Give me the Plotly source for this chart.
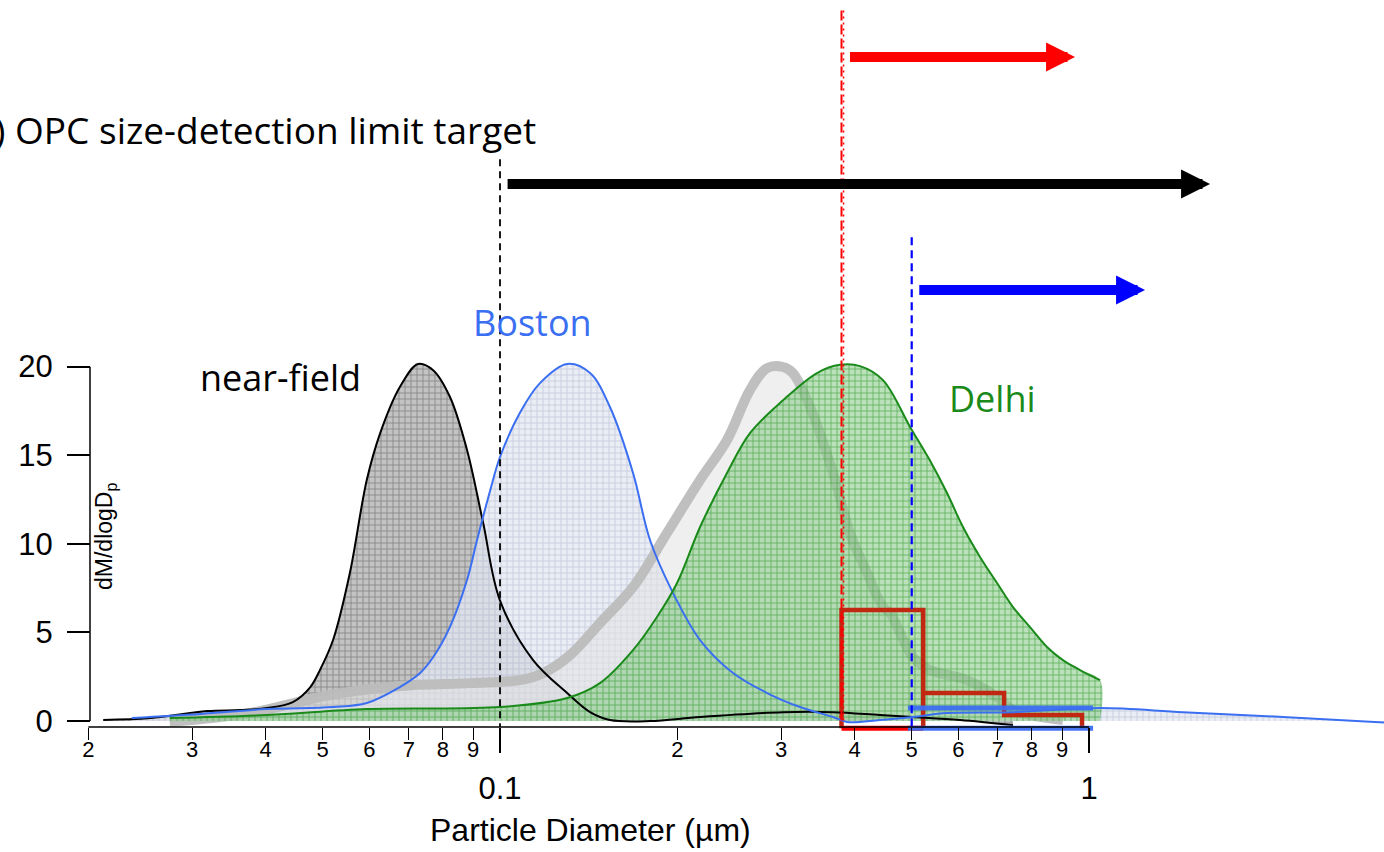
import numpy as np
import plotly.graph_objects as go

# ---------------- data ----------------
# near-field mass size distribution
nf_d = [0.0212, 0.0255, 0.0318, 0.0362, 0.0402, 0.0445, 0.0476, 0.0495, 0.0521, 0.0556,
        0.0594, 0.0626, 0.0676, 0.0726, 0.0770, 0.0822, 0.0879, 0.0936, 0.100, 0.1138,
        0.130, 0.1422, 0.1537, 0.1798, 0.2186, 0.3023, 0.3676, 0.4416, 0.502, 0.604, 0.743]
nf_v = [0.06, 0.17, 0.56, 0.62, 0.73, 1.07, 1.9, 2.9, 4.6, 8.35,
        13.6, 16.25, 18.85, 20.15, 19.8, 18.3, 15.3, 11.2, 6.8, 3.44,
        1.58, 0.5, 0.06, 0.0, 0.23, 0.5, 0.5, 0.34, 0.23, 0.06, -0.23]

# Boston
bo_d = [0.0237, 0.031, 0.0402, 0.0521, 0.0594, 0.0676, 0.0731, 0.077, 0.0822, 0.0879,
        0.0914, 0.0962, 0.100, 0.1081, 0.1169, 0.130, 0.1422, 0.1537, 0.1682, 0.1798,
        0.1967, 0.2186, 0.2487, 0.2841, 0.3231, 0.3676, 0.3882, 0.4416, 0.502, 0.574,
        0.743, 1.044, 1.444, 2.135, 3.24]
bo_v = [0.17, 0.4, 0.68, 0.79, 1.02, 1.92, 2.7, 3.6, 5.3, 7.96,
        10.2, 13.0, 14.9, 17.4, 19.07, 20.15, 19.64, 17.72, 14.0, 10.2,
        7.22, 4.57, 2.71, 1.58, 0.79, 0.23, -0.05, 0.06, 0.23, 0.45,
        0.5, 0.73, 0.5, 0.23, -0.1]

# Delhi
de_d = [0.0275, 0.0402, 0.0594, 0.100, 0.130, 0.1478, 0.1682, 0.1847, 0.1998, 0.2186,
        0.2429, 0.2657, 0.3023, 0.3453, 0.3778, 0.4086, 0.4469, 0.4968, 0.537, 0.574,
        0.611, 0.653, 0.698, 0.743, 0.794, 0.8485, 0.903, 0.9655, 1.044]
de_v = [0.17, 0.34, 0.68, 0.79, 1.3, 2.14, 4.0, 5.87, 7.79, 10.95,
        14.0, 16.25, 18.1, 19.64, 20.1, 20.03, 19.24, 16.6, 14.7, 12.87,
        10.95, 9.26, 7.79, 6.43, 5.3, 4.18, 3.44, 2.88, 2.31]

# grey (unlabelled) distribution
gr_d = [0.0275, 0.0376, 0.0514, 0.0676, 0.089, 0.1081, 0.1183, 0.1315, 0.1478, 0.1682,
        0.192, 0.2186, 0.2429, 0.2657, 0.2841, 0.3023, 0.3143, 0.336, 0.3676, 0.3928,
        0.42, 0.4469, 0.4594, 0.502, 0.537, 0.6208, 0.698, 0.743, 0.903]
gr_v = [-0.05, 0.45, 1.47, 1.98, 2.14, 2.31, 2.7, 3.72, 5.53, 7.56,
        10.6, 13.6, 15.86, 18.68, 19.92, 19.98, 19.64, 17.72, 14.0, 10.6,
        8.35, 6.43, 6.1, 3.61, 2.88, 2.31, 1.35, 0.62, 0.06]

# OPC bins (red) and blue bin
opc_red_edges = [0.380, 0.523, 0.7175, 0.973]
opc_red_vals = [6.26, 1.58, 0.34]
opc_blue_edges = [0.4926, 1.016]
opc_blue_val = 0.73
bin_base = -0.4

# detection limits (µm) and arrow extents (start, end, level)
lim_black, lim_red, lim_blue = 0.1, 0.38, 0.5
arrow_black = (0.1024, 1.605, 30.3)
arrow_red = (0.3905, 0.947, 37.47)
arrow_blue = (0.512, 1.245, 24.32)
vline_black_y = (31.7, -0.34)
vline_red_y = (40.1, 0.0)
vline_blue_y = (27.3, -0.34)

minor_vals = [0.02, 0.03, 0.04, 0.05, 0.06, 0.07, 0.08, 0.09,
              0.2, 0.3, 0.4, 0.5, 0.6, 0.7, 0.8, 0.9]
minor_text = ["2", "3", "4", "5", "6", "7", "8", "9",
              "2", "3", "4", "5", "6", "7", "8", "9"]
major_vals = [0.1, 1]
major_text = ["0.1", "1"]
y_ticks = [0, 5, 10, 15, 20]

W, H = 1384, 852
XR = [-1.8489, 0.5008]
YR = [-7.39, 40.69]
SM = 1.0

fig = go.Figure()

# fills
fig.add_trace(go.Scatter(x=nf_d, y=nf_v, mode="lines", line=dict(width=0, shape="spline", smoothing=SM),
                         fill="tozeroy", fillcolor="rgba(170,170,170,0.85)",
                         fillpattern=dict(shape="+", size=6, solidity=0.25, fgcolor="rgba(125,125,125,0.9)",
                                          bgcolor="rgba(185,185,185,0.85)", fillmode="replace"),
                         showlegend=False, hoverinfo="skip"))
fig.add_trace(go.Scatter(x=bo_d, y=bo_v, mode="lines", line=dict(width=0, shape="spline", smoothing=SM),
                         fill="tozeroy", fillcolor="rgba(222,227,238,0.8)",
                         fillpattern=dict(shape="+", size=6, solidity=0.25, fgcolor="rgba(190,198,218,0.85)",
                                          bgcolor="rgba(226,230,240,0.75)", fillmode="replace"),
                         showlegend=False, hoverinfo="skip"))
fig.add_trace(go.Scatter(x=gr_d, y=gr_v, mode="lines",
                         line=dict(width=10, color="rgba(188,188,188,0.95)", shape="spline", smoothing=SM),
                         fill="tozeroy", fillcolor="rgba(225,225,225,0.55)",
                         showlegend=False, hoverinfo="skip"))

fig.add_trace(go.Scatter(x=de_d + [de_d[-1]], y=de_v + [0], mode="lines",
                         line=dict(width=0, shape="spline", smoothing=SM),
                         fill="tozeroy", fillcolor="rgba(120,195,120,0.6)",
                         fillpattern=dict(shape="+", size=6, solidity=0.25, fgcolor="rgba(55,155,55,0.7)",
                                          bgcolor="rgba(140,205,140,0.6)", fillmode="replace"),
                         showlegend=False, hoverinfo="skip"))

# red OPC bins
rx = [opc_red_edges[0], opc_red_edges[0], opc_red_edges[1], opc_red_edges[1], None,
      opc_red_edges[1], opc_red_edges[2], opc_red_edges[2], opc_red_edges[3], opc_red_edges[3]]
ry = [bin_base, opc_red_vals[0], opc_red_vals[0], bin_base, None,
      opc_red_vals[1], opc_red_vals[1], opc_red_vals[2], opc_red_vals[2], bin_base]
fig.add_trace(go.Scatter(x=rx, y=ry, mode="lines", line=dict(width=4.5, color="#c02812"),
                         showlegend=False, hoverinfo="skip"))
fig.add_trace(go.Scatter(x=[opc_red_edges[0], opc_red_edges[1]], y=[bin_base, bin_base], mode="lines",
                         line=dict(width=5, color="#ff0000"), showlegend=False, hoverinfo="skip"))

# outlines
fig.add_trace(go.Scatter(x=nf_d, y=nf_v, mode="lines", line=dict(width=2, color="black", shape="spline", smoothing=SM),
                         showlegend=False, hoverinfo="skip"))
fig.add_trace(go.Scatter(x=bo_d, y=bo_v, mode="lines", line=dict(width=2, color="#3b6ff2", shape="spline", smoothing=SM),
                         showlegend=False, hoverinfo="skip"))
fig.add_trace(go.Scatter(x=de_d, y=de_v, mode="lines", line=dict(width=2, color="#1a8a1a", shape="spline", smoothing=SM),
                         showlegend=False, hoverinfo="skip"))

# blue bin
fig.add_trace(go.Scatter(x=[opc_blue_edges[0], opc_blue_edges[1], None, opc_blue_edges[0], opc_blue_edges[1]],
                         y=[opc_blue_val, opc_blue_val, None, bin_base, bin_base],
                         mode="lines", line=dict(width=5, color="rgba(60,110,240,0.95)"),
                         showlegend=False, hoverinfo="skip"))

# dashed detection-limit lines
fig.add_trace(go.Scatter(x=[lim_black, lim_black], y=list(vline_black_y), mode="lines",
                         line=dict(width=1.8, color="black", dash="7px,5px"), showlegend=False, hoverinfo="skip"))
fig.add_trace(go.Scatter(x=[lim_red, lim_red], y=list(vline_red_y), mode="lines",
                         line=dict(width=2, color="#ff0000", dash="10px,4px"), showlegend=False, hoverinfo="skip"))
fig.add_trace(go.Scatter(x=[lim_red * 1.008, lim_red * 1.008], y=list(vline_red_y), mode="lines",
                         line=dict(width=1.5, color="#ff0000", dash="2px,4px"), showlegend=False, hoverinfo="skip"))
fig.add_trace(go.Scatter(x=[lim_blue, lim_blue], y=list(vline_blue_y), mode="lines",
                         line=dict(width=2.2, color="#0000ff", dash="8px,5px"), showlegend=False, hoverinfo="skip"))

# dummy trace for minor-label axis
fig.add_trace(go.Scatter(x=[], y=[], xaxis="x2", yaxis="y", showlegend=False, hoverinfo="skip"))

# axis lines (Igor-style offset, limited extent)
fig.add_shape(type="line", xref="x", yref="y", x0=minor_vals[0], x1=major_vals[-1], y0=-0.34, y1=-0.34,
              line=dict(color="black", width=1.5))
fig.add_shape(type="line", xref="paper", yref="y", x0=90 / W, x1=90 / W, y0=y_ticks[0], y1=y_ticks[-1],
              line=dict(color="black", width=1.5))

anns = []
for (x0, x1, yv), col in [(arrow_black, "black"), (arrow_red, "#ff0000"), (arrow_blue, "#0000ff")]:
    anns.append(dict(x=np.log10(x1), y=yv, ax=np.log10(x0), ay=yv, xref="x", yref="y", axref="x", ayref="y",
                     text="", showarrow=True, arrowhead=2, arrowsize=0.58, arrowwidth=10, arrowcolor=col))

txtfont = "Open Sans"
anns += [
    dict(text="near-field", x=280 / W, y=1 - 377 / H, xref="paper", yref="paper", showarrow=False,
         font=dict(family=txtfont, size=36, color="black"), xanchor="center", yanchor="middle"),
    dict(text="Boston", x=532 / W, y=1 - 322 / H, xref="paper", yref="paper", showarrow=False,
         font=dict(family=txtfont, size=36, color="#3b6ff2"), xanchor="center", yanchor="middle"),
    dict(text="Delhi", x=993 / W, y=1 - 399 / H, xref="paper", yref="paper", showarrow=False,
         font=dict(family=txtfont, size=36, color="#1a8a1a"), xanchor="center", yanchor="middle"),
    dict(text="(b) OPC size-detection limit target", x=538 / W, y=1 - 130 / H, xref="paper", yref="paper",
         showarrow=False, font=dict(family=txtfont, size=37, color="black"), xanchor="right", yanchor="middle"),
    dict(text="Particle Diameter (µm)", x=590 / W, y=1 - 830 / H, xref="paper", yref="paper", showarrow=False,
         font=dict(family="Liberation Sans", size=32, color="black"), xanchor="center", yanchor="middle"),
    dict(text="dM/dlogD<sub>p</sub>", x=105 / W, y=1 - 537 / H, xref="paper", yref="paper", showarrow=False,
         textangle=-90, font=dict(family="Liberation Sans", size=23, color="black"),
         xanchor="center", yanchor="middle"),
]

fig.update_layout(
    width=W, height=H, margin=dict(l=0, r=0, t=0, b=0),
    plot_bgcolor="white", paper_bgcolor="white",
    showlegend=False,
    xaxis=dict(type="log", range=XR, domain=[0, 1], anchor="free", position=1 - 727 / H,
               showgrid=False, zeroline=False, showline=False,
               tickmode="array", tickvals=major_vals, ticktext=major_text,
               ticks="outside", ticklen=25, tickwidth=1.5, tickcolor="black",
               ticklabelstandoff=9,
               tickfont=dict(family="Liberation Sans", size=31, color="black")),
    xaxis2=dict(type="log", range=XR, overlaying="x", anchor="free", position=1 - 727 / H,
                showgrid=False, zeroline=False, showline=False,
                tickmode="array", tickvals=minor_vals, ticktext=minor_text,
                ticks="outside", ticklen=12, tickwidth=1.2, tickcolor="black",
                ticklabelstandoff=-9,
                tickfont=dict(family="Liberation Sans", size=22, color="black")),
    yaxis=dict(range=YR, anchor="free", position=90 / W, domain=[0, 1],
               showgrid=False, zeroline=False, showline=False,
               tickmode="array", tickvals=y_ticks,
               ticks="outside", ticklen=23, tickwidth=1.5, tickcolor="black",
               ticklabelstandoff=8,
               tickfont=dict(family="Liberation Sans", size=31, color="black")),
    annotations=anns,
)

fig.write_html("out.html")
